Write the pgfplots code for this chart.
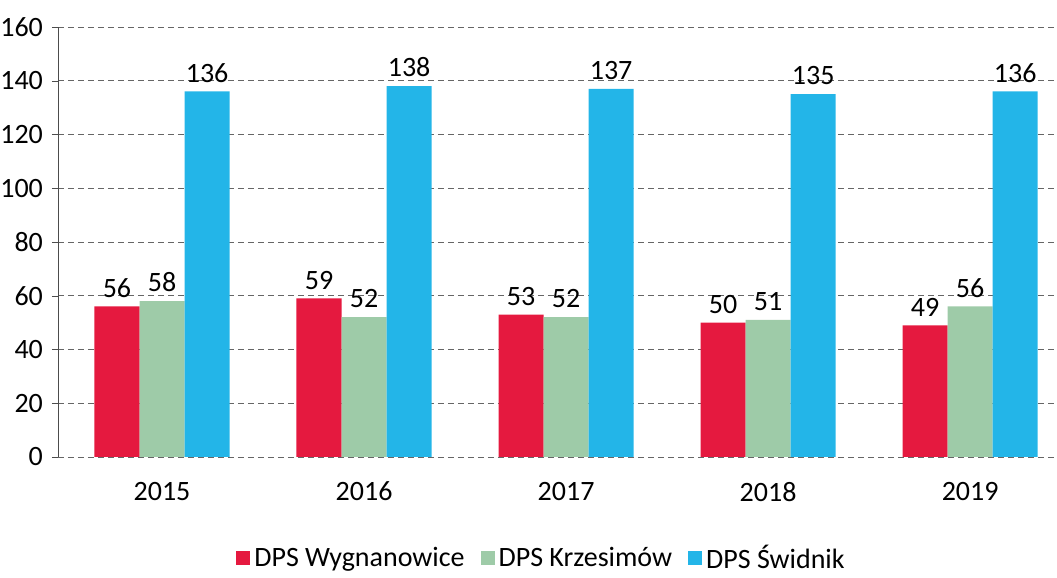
\documentclass[border=0pt]{standalone}
\usepackage{pgfplots}
\pgfplotsset{compat=1.18}
\usepackage{fontspec}
\setmainfont{Carlito}
\definecolor{cRed}{HTML}{E5193F}
\definecolor{cGreen}{HTML}{9ECBA8}
\definecolor{cBlue}{HTML}{23B5E8}
\begin{document}
\begin{tikzpicture}[x=1pt,y=1pt]
\useasboundingbox (-29,-60.5) rectangle (499.5,228.5);
\begin{axis}[
    at={(0,0)}, anchor=south west,
    scale only axis, width=499.5pt, height=215pt,
    ybar=0pt, bar width=0.223,
    xmin=-0.515, xmax=4.43,
    ymin=0, ymax=160,
    ytick={0,20,...,160},
    xtick={0,1,2,3,4},
    xticklabels={2015,2016,2017,2018,2019},
    axis x line*=bottom, axis y line*=left,
    x axis line style={draw=none},
    y axis line style={black!70, thin},
    xtick style={draw=none},
    ytick style={black!70},
    tick align=outside, major tick length=3pt,
    ymajorgrids=true,
    major grid style={black!60, densely dashed, line width=0.4pt},
    tick label style={font=\fontsize{14}{16}\selectfont},
    y tick label style={xshift=-1pt},
    x tick label style={yshift=-6pt},
    /pgf/number format/assume math mode=true,
    nodes near coords,
    every node near coord/.append style={font=\fontsize{14}{16}\selectfont, black, yshift=1pt},
    legend style={at={(0.485,-0.235)}, anchor=center, draw=none, fill=none,
        font=\fontsize{14}{16}\selectfont, legend columns=3,
        /tikz/every even column/.append style={column sep=6pt}},
    legend image code/.code={\fill[#1] (0pt,-3.5pt) rectangle (7pt,3.5pt);},
    legend cell align=left,
]
\addplot[fill=cRed, draw=none] coordinates {(0,56) (1,59) (2,53) (3,50) (4,49)};
\addlegendentry{DPS Wygnanowice}
\addplot[fill=cGreen, draw=none] coordinates {(0,58) (1,52) (2,52) (3,51) (4,56)};
\addlegendentry{DPS Krzesimów}
\addplot[fill=cBlue, draw=none] coordinates {(0,136) (1,138) (2,137) (3,135) (4,136)};
\addlegendentry{DPS Świdnik}
\end{axis}
\end{tikzpicture}
\end{document}
